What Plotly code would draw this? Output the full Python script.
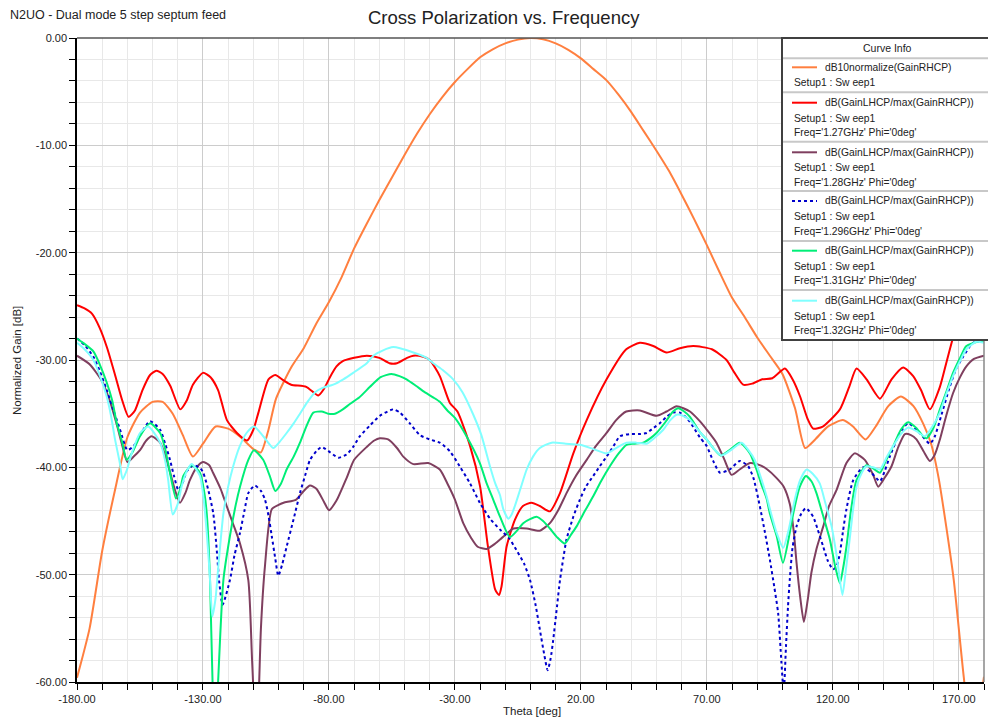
import plotly.graph_objects as go

# ---------------- data ----------------
theta_rhcp = [-180, -175, -170, -165, -160, -155, -150, -146, -142, -138, -134, -130, -125, -120, -115, -110, -107, -104, -101, -95,
              -90, -85, -80, -75, -70, -65, -60, -55, -50, -45, -40, -35, -30, -25, -20, -15, -10, -5, 0, 5, 10, 15, 20, 25, 30,
              35, 40, 45, 50, 55, 60, 65, 70, 75, 80, 85, 90, 95, 100, 105, 109, 113, 118, 124, 128, 133, 137, 142, 147, 152,
              156, 159, 162, 165, 168, 172, 174, 177, 180]
gain_rhcp = [-59.6, -55.0, -47.8, -42.2, -37.2, -34.9, -33.9, -33.9, -35.0, -37.0, -39.0, -37.8, -36.2, -36.4, -37.2, -38.3, -38.6, -36.5, -33.6, -30.7,
             -28.9, -26.6, -24.6, -22.3, -19.6, -17.3, -15.1, -13.0, -10.9, -8.9, -7.1, -5.5, -4.1, -2.9, -1.8, -1.05, -0.5, -0.15, 0.0, -0.12, -0.5, -1.1, -1.9, -2.9, -3.9,
             -5.3, -6.9, -8.7, -10.5, -12.4, -14.6, -16.9, -19.3, -21.8, -24.2, -26.0, -27.9, -29.6, -31.3, -34.5, -38.2, -37.4, -36.2, -35.6, -36.2, -37.4, -36.2, -34.3, -33.4, -34.3,
             -36.0, -37.8, -41.0, -45.5, -50.5, -59.6, -63.0, -63.0, -59.5]

theta_127 = [-180, -177, -174, -171, -168, -165, -162, -159.5, -157, -154, -151, -148.5, -146, -143, -139, -136.5, -134, -130, -127, -124,
             -120.5, -116.5, -112.5, -110, -108, -104, -101.3, -98, -95, -89, -84.2, -82, -79.6, -77, -74.5, -70, -65, -60, -56, -53,
             -49, -46.5, -42.6, -40, -36, -32, -29, -24, -20, -17, -14, -12.5, -11.5, -9.5, -6.2, -3, 0.4, 3.7, 7.7, 11.7,
             17, 22.3, 30.2, 38, 43.4, 48.7, 54, 59.3, 64.6, 72, 77.8, 81, 84.4, 88, 92, 96, 101, 104, 107, 110,
             112.2, 116, 122.8, 126.5, 129.4, 133.4, 138.7, 143.3, 147.9, 151.9, 155, 158.5, 162.5, 165, 167.7, 170.4, 175, 180]
gain_127 = [-24.9, -25.2, -25.7, -27.0, -28.9, -31.3, -33.8, -35.3, -34.7, -32.8, -31.4, -31.0, -31.3, -32.4, -34.6, -33.8, -32.3, -31.2, -31.6, -32.8,
            -35.6, -36.8, -37.5, -36.5, -34.9, -31.8, -31.4, -31.9, -32.3, -32.5, -33.3, -32.7, -31.6, -30.6, -30.1, -29.8, -29.6, -29.8, -30.3, -30.3,
            -29.8, -29.6, -29.7, -30.0, -31.5, -34.0, -34.8, -38.0, -41.8, -47.2, -51.4, -51.9, -51.1, -47.4, -44.9, -43.6, -43.3, -43.6, -44.1, -42.4,
            -38.7, -35.6, -31.8, -29.0, -28.4, -28.7, -29.3, -28.9, -28.7, -29.0, -30.0, -31.2, -32.3, -32.2, -31.8, -31.7, -30.8, -31.8, -33.4, -35.5,
            -36.4, -36.2, -34.6, -32.5, -30.8, -31.8, -33.6, -31.8, -30.7, -31.5, -32.8, -34.6, -32.5, -30.3, -27.9, -25.6, -24.5, -24.5]

theta_128 = [-180, -175, -170, -167, -164, -162, -160, -157.5, -155, -152.5, -150.4, -147, -145, -143, -141, -139.1, -137, -135.2, -132.5, -130,
             -127.5, -126, -123, -120.6, -118, -115.3, -112, -110.5, -109, -108, -107, -105.4, -102.7, -100, -98, -93, -90, -87.5, -85, -82,
             -80, -77, -73, -70, -65, -62, -59.8, -56.5, -53, -50.5, -46.5, -40.6, -36, -33, -30, -26.7, -23.5, -21, -17.4, -14,
             -12, -9, -6.8, -1.5, 3.7, 7.7, 11, 14.3, 18, 22.3, 26, 30.2, 34, 38, 43.4, 50, 54, 58, 63.3, 67.2,
             70, 73.8, 77, 79.8, 83, 87.1, 91, 94, 97.7, 100.5, 102.9, 104.5, 105.6, 107, 108.5, 110, 111.5, 113.5, 116.2, 118.5,
             121.5, 125.4, 128.7, 132.7, 136, 138, 140.5, 143.3, 146, 148.6, 151, 153.2, 156, 158.5, 160.5, 162.5, 165, 167.7, 170.5, 173,
             176, 180]
gain_128 = [-29.6, -30.4, -32.0, -33.8, -36.2, -38.0, -39.5, -39.0, -38.4, -37.5, -37.1, -37.7, -38.9, -40.5, -42.2, -43.3, -42.4, -41.2, -40.0, -39.5,
            -39.8, -40.5, -42.0, -43.6, -45.3, -47.1, -50.5, -58.0, -65.0, -62.0, -55.0, -49.2, -43.9, -43.5, -43.3, -43.0, -42.2, -41.7, -42.0, -43.2,
            -44.0, -43.1, -41.0, -39.3, -38.1, -37.5, -37.3, -37.4, -38.2, -39.0, -39.7, -39.6, -40.2, -41.5, -43.0, -45.2, -46.6, -47.4, -47.6, -47.1,
            -46.7, -46.1, -45.7, -45.7, -45.9, -45.2, -44.0, -42.4, -40.8, -39.3, -38.0, -36.8, -35.6, -34.8, -34.7, -35.2, -34.8, -34.3, -34.8, -35.7,
            -36.5, -37.7, -39.3, -40.7, -40.2, -39.6, -39.8, -40.2, -41.0, -41.8, -43.4, -46.0, -48.9, -52.0, -54.4, -52.4, -49.8, -47.6, -45.5, -43.6,
            -42.1, -39.6, -38.7, -39.3, -40.7, -41.8, -41.0, -39.9, -38.1, -36.9, -37.0, -37.4, -38.5, -39.4, -38.8, -37.4, -35.2, -33.1, -31.6, -30.6,
            -29.9, -29.6]

theta_1296 = [-180, -177, -173.5, -171, -168.2, -165.5, -162.9, -160, -157.5, -155, -151, -147, -145, -143.1, -141.5, -139.8, -138, -136.5, -133.8, -131,
              -129.9, -128, -125.9, -124.5, -123.5, -122.2, -119.3, -117.5, -115.3, -113.5, -112, -109.4, -107, -105.4, -104, -102.7, -101.3, -100.1, -98.5, -96.8,
              -94, -91.5, -89.5, -87.5, -85, -82.9, -79.5, -76.3, -73, -70.4, -67.7, -63.7, -59.8, -54.5, -51.8, -47.9, -43.9, -40, -36, -32,
              -28.1, -24, -20.1, -16, -12.1, -8.5, -5.6, -2.5, -0.2, 2, 3.7, 5.5, 6.8, 8, 9, 10.5, 11.7, 13, 14.3, 17,
              19.6, 22, 24.9, 27.5, 30.2, 33, 35.5, 39.4, 43, 46.1, 49, 51.3, 54, 56.6, 59.3, 62, 64.5, 67.2, 69.9, 72.5,
              75.2, 79.1, 83.1, 86.4, 88.5, 91, 93, 95, 96.8, 98.3, 99.6, 100.5, 101.4, 102.2, 102.9, 104, 105.6, 107.5, 109.3, 112.2,
              114, 116.2, 118, 120.1, 121.5, 122.8, 124, 125.4, 128.1, 132, 135.3, 138.7, 140.5, 142.6, 146.6, 149.9, 154.5, 158.5, 160.5, 162.5,
              166.4, 169, 171.7, 175.7, 180]
gain_1296 = [-28.0, -28.6, -29.7, -31.0, -32.8, -34.7, -36.5, -38.4, -38.0, -37.0, -35.7, -36.5, -37.8, -39.3, -40.8, -42.1, -41.4, -40.4, -39.8, -40.1,
             -40.5, -42.0, -44.3, -47.8, -50.8, -52.8, -50.5, -48.2, -46.1, -44.0, -42.4, -41.7, -42.2, -43.0, -44.5, -46.4, -48.5, -50.1, -49.0, -47.4,
             -44.8, -42.4, -40.8, -39.3, -38.5, -38.1, -38.6, -39.1, -38.8, -38.1, -37.1, -36.1, -35.2, -34.6, -34.9, -35.9, -37.0, -37.4, -37.7, -38.5,
             -39.9, -41.5, -43.3, -44.8, -45.8, -46.6, -47.7, -49.0, -50.5, -52.8, -55.1, -57.5, -58.9, -57.8, -56.1, -53.0, -50.5, -48.5, -46.7, -44.6,
             -43.0, -41.8, -40.8, -39.9, -39.0, -38.0, -37.1, -36.9, -36.9, -36.8, -36.3, -35.9, -35.3, -34.9, -34.9, -35.4, -36.2, -37.2, -38.0, -39.4,
             -40.5, -40.2, -39.4, -39.9, -41.0, -43.6, -46.0, -48.6, -51.2, -53.6, -58.2, -61.0, -56.7, -53.0, -50.5, -47.5, -45.5, -44.3, -43.8, -44.6,
             -45.8, -47.4, -48.7, -49.5, -49.2, -48.0, -46.0, -43.9, -41.2, -40.0, -40.5, -41.3, -40.4, -39.0, -36.8, -35.9, -36.8, -37.8, -37.1, -35.6,
             -32.5, -30.8, -29.7, -28.4, -28.3]

theta_131 = [-180, -177, -173.5, -171, -168.2, -166, -164.2, -162, -160.3, -158, -155, -151, -147, -145, -143.1, -140.7, -139, -137.8, -134.5, -131.2,
             -129.5, -128.5, -127.2, -126.2, -125, -124, -121.9, -119.3, -117, -115.3, -112, -109.8, -106.1, -103.5, -101.3, -99, -96.8, -94, -91.5, -89,
             -86.2, -82.9, -80.3, -77.6, -74.5, -71.7, -68, -63.7, -59.5, -55.2, -52, -49.2, -45.5, -42, -38.5, -36, -33, -30, -25.4, -20.1,
             -17.4, -14.8, -12.1, -8.2, -5, -2.9, 0, 2.4, 5, 7.7, 10.5, 13.6, 16, 18.3, 21.5, 24.9, 28, 31.5, 35, 38.1,
             41, 44.7, 47.5, 50, 53.5, 56.6, 58.6, 61, 63.3, 67.2, 69.9, 72.5, 75.5, 79, 83.1, 87.1, 89.7, 91.5, 93.7, 95,
             97.7, 100.2, 102.9, 104.3, 106.9, 109.3, 111.5, 113.5, 116, 118.8, 121, 122.8, 124, 125.4, 127.2, 129.4, 133.4, 136, 138.7, 141,
             144, 147, 149.9, 153, 155.8, 157.2, 160, 162.5, 165, 167.7, 170.5, 173, 177.6, 180]
gain_131 = [-28.0, -28.5, -29.2, -30.4, -32.1, -33.8, -35.9, -37.7, -39.3, -38.6, -37.1, -35.9, -36.8, -38.3, -40.5, -42.9, -42.0, -40.8, -39.8, -40.5,
            -42.3, -44.3, -50.5, -60.0, -65.0, -60.0, -50.5, -46.4, -43.5, -41.8, -39.3, -38.4, -39.3, -40.8, -42.2, -41.5, -40.2, -39.0, -37.7, -36.2,
            -34.9, -34.8, -35.0, -35.0, -34.6, -34.1, -33.5, -32.5, -31.6, -31.3, -31.5, -31.8, -32.4, -33.0, -33.5, -33.9, -34.7, -35.4, -37.1, -39.6,
            -41.5, -43.0, -44.6, -46.5, -45.8, -45.2, -44.8, -44.6, -45.0, -45.7, -46.5, -47.1, -46.3, -45.5, -44.1, -42.7, -41.3, -39.9, -38.7, -37.9,
            -37.8, -37.7, -37.3, -36.8, -35.8, -34.8, -34.5, -34.8, -35.3, -36.7, -37.4, -38.2, -38.9, -38.4, -37.7, -38.7, -40.2, -41.5, -42.9, -44.3,
            -46.4, -48.9, -46.1, -44.3, -41.8, -40.8, -41.3, -42.4, -44.4, -46.7, -49.3, -50.8, -49.5, -47.4, -44.0, -41.2, -39.8, -40.1, -40.5, -39.4,
            -38.0, -36.5, -35.8, -36.3, -37.1, -37.3, -36.3, -34.6, -33.0, -31.2, -29.8, -28.7, -28.3, -28.3]

theta_132 = [-180, -177, -173.5, -171, -168.2, -166.5, -164.9, -163, -161.9, -160.3, -158.3, -155, -151.7, -147, -145, -143.8, -142, -140, -138.5, -136.5,
             -134.5, -131.2, -129.7, -128.5, -127.3, -126.3, -125, -123.9, -121.9, -120, -118, -115.5, -112.7, -109.8, -106.1, -102.1, -99.5, -96.8, -94, -91.5,
             -88.5, -85.5, -82.5, -78.3, -74.3, -70.4, -65, -62.4, -58.5, -54.5, -51.8, -46.5, -41.2, -38.6, -34.5, -30.7, -27, -22.7, -19.5, -16.1,
             -14, -12.1, -10.8, -8.8, -7.5, -6.2, -4, -1.5, 1, 3.7, 8.4, 14, 19.6, 25, 30.2, 34, 38.1, 42, 46.1, 49.5,
             52.7, 55.5, 58, 60.5, 63.3, 67.2, 69.9, 72.5, 75.8, 79.5, 83.8, 86.5, 89, 91.5, 93.7, 95.5, 97.7, 100.3, 102.5, 104.9,
             107, 109.6, 112, 114.8, 117, 119.5, 121.5, 123.8, 125.2, 126.7, 128, 129.4, 131.5, 133.4, 136, 138.7, 141.5, 144, 147, 149.9,
             153, 156.5, 159.5, 162.5, 165, 167.7, 170.5, 173, 177, 180]
gain_132 = [-28.4, -29.0, -30.0, -31.4, -33.4, -35.2, -37.4, -39.6, -41.1, -40.3, -38.7, -36.8, -36.2, -37.7, -39.4, -41.2, -44.4, -43.4, -41.8, -40.4,
            -39.7, -40.8, -43.0, -46.1, -50.0, -53.9, -52.2, -49.2, -44.3, -41.8, -39.9, -38.1, -36.8, -36.2, -37.1, -38.2, -37.6, -36.8, -35.9, -35.0,
            -33.9, -33.0, -32.6, -32.3, -31.8, -31.2, -30.3, -29.6, -29.1, -28.8, -28.9, -29.3, -29.8, -30.3, -31.0, -31.8, -33.0, -35.1, -37.0, -39.9,
            -41.5, -42.6, -43.9, -44.8, -44.4, -43.6, -42.0, -40.2, -39.0, -38.2, -37.7, -37.8, -37.9, -38.3, -38.7, -38.2, -37.7, -37.7, -37.8, -37.2,
            -36.5, -35.6, -35.1, -35.2, -35.6, -36.7, -37.4, -38.2, -38.9, -38.4, -37.7, -38.4, -39.3, -41.0, -42.7, -44.3, -46.1, -47.5, -45.8, -43.0,
            -41.2, -40.2, -40.6, -41.5, -43.3, -45.5, -48.2, -51.9, -49.5, -46.7, -44.0, -41.8, -40.5, -39.9, -40.0, -40.2, -39.0, -38.0, -36.9, -36.3,
            -36.6, -37.1, -36.2, -34.9, -33.2, -31.5, -30.1, -29.0, -28.3, -28.4]

x_tick_vals = [-180, -130, -80, -30, 20, 70, 120, 170]
x_tick_text = ["-180.00", "-130.00", "-80.00", "-30.00", "20.00", "70.00", "120.00", "170.00"]
y_tick_vals = [0, -10, -20, -30, -40, -50, -60]
y_tick_text = ["0.00", "-10.00", "-20.00", "-30.00", "-40.00", "-50.00", "-60.00"]

legend_labels = ["dB10normalize(GainRHCP)", "dB(GainLHCP/max(GainRHCP))", "dB(GainLHCP/max(GainRHCP))",
                 "dB(GainLHCP/max(GainRHCP))", "dB(GainLHCP/max(GainRHCP))", "dB(GainLHCP/max(GainRHCP))"]
legend_freqs = [None, "Freq='1.27GHz' Phi='0deg'", "Freq='1.28GHz' Phi='0deg'", "Freq='1.296GHz' Phi='0deg'",
                "Freq='1.31GHz' Phi='0deg'", "Freq='1.32GHz' Phi='0deg'"]
setup_label = "Setup1 : Sw eep1"

# ---------------- styling ----------------
OFF = 8                      # page body margin of the html page
W, H = 996 - OFF, 725 - OFF  # figure size
L, R, T, B = 77, 984, 38, 682  # plot area in screenshot pixels
FONT = "Liberation Sans, Arial, sans-serif"

def px(x):
    return (x - L) / (R - L)

def py(y):
    return (B - y) / (B - T)

series = [
    (theta_rhcp, gain_rhcp, "#FF7F3F", "solid"),
    (theta_127, gain_127, "#FF0000", "solid"),
    (theta_128, gain_128, "#7F3F5F", "solid"),
    (theta_1296, gain_1296, "#0000CC", "dot"),
    (theta_131, gain_131, "#00EE77", "solid"),
    (theta_132, gain_132, "#80FFFF", "solid"),
]

fig = go.Figure()
for (th, g, col, dash), name in zip(series, legend_labels):
    fig.add_trace(go.Scatter(x=th, y=g, mode="lines", name=name,
                             line=dict(color=col, width=2, dash=dash, shape="spline", smoothing=0.6)))

axis_common = dict(showline=True, linecolor="black", linewidth=1.5, ticks="outside", ticklen=6,
                   tickcolor="black", tickwidth=1, zeroline=False, showgrid=True,
                   gridcolor="#cccccc", gridwidth=1, tickmode="array",
                   tickfont=dict(family=FONT, size=11, color="#222"))

fig.update_xaxes(range=[-180, 180], tickvals=x_tick_vals, ticktext=x_tick_text, **axis_common,
                 minor=dict(tickmode="linear", tick0=-180, dtick=10, ticks="outside", ticklen=6, tickcolor="black",
                            showgrid=True, gridcolor="#e8e8e8", gridwidth=1))
fig.update_yaxes(range=[-60, 0], tickvals=y_tick_vals, ticktext=y_tick_text, **axis_common,
                 minor=dict(tickmode="linear", tick0=0, dtick=2, ticks="outside", ticklen=6, tickcolor="black",
                            showgrid=True, gridcolor="#e8e8e8", gridwidth=1))

shapes = [
    dict(type="line", xref="paper", yref="paper", x0=0, x1=1, y0=1, y1=1, line=dict(color="#555", width=1.5)),
    dict(type="line", xref="paper", yref="paper", x0=1, x1=1, y0=0, y1=1, line=dict(color="#888", width=1.5)),
]
annotations = [
    dict(text="Cross Polarization vs. Frequency", x=px(504), y=py(17), xref="paper", yref="paper",
         showarrow=False, xanchor="center", yanchor="middle", font=dict(family=FONT, size=18.5, color="#222")),
    dict(text="N2UO - Dual mode 5 step septum feed", x=px(8), y=py(15), xref="paper", yref="paper",
         showarrow=False, xanchor="left", yanchor="middle", font=dict(family=FONT, size=12.5, color="#222")),
    dict(text="Theta [deg]", x=px(532), y=py(711), xref="paper", yref="paper",
         showarrow=False, xanchor="center", yanchor="middle", font=dict(family=FONT, size=11.5, color="#222")),
    dict(text="Normalized Gain [dB]", x=px(17), y=py(360), xref="paper", yref="paper", textangle=-90,
         showarrow=False, xanchor="center", yanchor="middle", font=dict(family=FONT, size=11.5, color="#222")),
]

# ---------------- curve info box ----------------
box_l, box_t, box_b, box_r = 782, 38, 340, 1002
shapes.append(dict(type="rect", xref="paper", yref="paper", x0=px(box_l), x1=px(box_r), y0=py(box_b), y1=py(box_t),
                   fillcolor="white", line=dict(color="#404040", width=2), layer="above"))
for sy in [58.3, 92.3, 141.7, 191, 241, 290]:
    shapes.append(dict(type="line", xref="paper", yref="paper", x0=px(box_l + 1), x1=px(box_r), y0=py(sy), y1=py(sy),
                       line=dict(color="#c8c8c8", width=2), layer="above"))
annotations.append(dict(text="Curve Info", x=px(887), y=py(48), xref="paper", yref="paper", showarrow=False,
                        xanchor="center", yanchor="middle", font=dict(family=FONT, size=10.5, color="#222")))
entry_tops = [67.3, 102.7, 152.3, 201, 250.7, 300.7]
lfont = dict(family=FONT, size=10.3, color="#222")
for (th, g, col, dash), lab, fq, ey in zip(series, legend_labels, legend_freqs, entry_tops):
    shapes.append(dict(type="line", xref="paper", yref="paper", x0=px(792), x1=px(817), y0=py(ey), y1=py(ey),
                       line=dict(color=col, width=2, dash=dash), layer="above"))
    annotations.append(dict(text=lab, x=px(823), y=py(ey), xref="paper", yref="paper", showarrow=False,
                            xanchor="left", yanchor="middle", font=lfont))
    annotations.append(dict(text=setup_label, x=px(792), y=py(ey + 15.5), xref="paper", yref="paper", showarrow=False,
                            xanchor="left", yanchor="middle", font=lfont))
    if fq:
        annotations.append(dict(text=fq, x=px(792), y=py(ey + 30), xref="paper", yref="paper", showarrow=False,
                                xanchor="left", yanchor="middle", font=lfont))

fig.update_layout(width=W, height=H,
                  margin=dict(l=L - OFF, r=W - (R - OFF), t=T - OFF, b=H - (B - OFF)),
                  paper_bgcolor="white", plot_bgcolor="white", showlegend=False,
                  shapes=shapes, annotations=annotations, font=dict(family=FONT))

fig.write_html("out.html")
